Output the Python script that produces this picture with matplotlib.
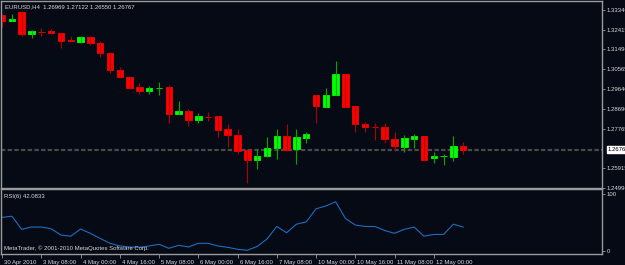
import numpy as np
import matplotlib
matplotlib.use("Agg")
import matplotlib.pyplot as plt
from matplotlib import transforms

# EURUSD H4 candles (30 Apr 2010 16:00 .. 12 May 2010 12:00)
opens = [1.33105, 1.32823, 1.33246, 1.32212, 1.32306, 1.32353, 1.32259, 1.31930,
         1.31836, 1.32071, 1.31789, 1.31319, 1.30520, 1.30191, 1.29721, 1.29533,
         1.29660, 1.29721, 1.28452, 1.28593, 1.28170, 1.28320, 1.28358, 1.27747,
         1.27465, 1.26760, 1.26290, 1.26478, 1.26854, 1.27418, 1.26807, 1.27324,
         1.29345, 1.28781, 1.29345, 1.30332, 1.28828, 1.27982, 1.27855, 1.27841,
         1.27277, 1.26901, 1.27277, 1.27418, 1.26384, 1.26464, 1.26431, 1.26969]
highs = [1.33152, 1.33152, 1.33293, 1.32400, 1.32494, 1.32447, 1.32259, 1.32118,
         1.32118, 1.32118, 1.31883, 1.31366, 1.30661, 1.30191, 1.29909, 1.29768,
         1.29956, 1.29815, 1.29063, 1.28687, 1.28499, 1.28546, 1.28358, 1.27982,
         1.27747, 1.26760, 1.26807, 1.27371, 1.27747, 1.27982, 1.27747, 1.27606,
         1.29345, 1.29674, 1.30943, 1.30332, 1.28828, 1.28076, 1.28029, 1.28029,
         1.27606, 1.27465, 1.27512, 1.27418, 1.26666, 1.26572, 1.27418, 1.27122]
lows = [1.32541, 1.32823, 1.32118, 1.32024, 1.32118, 1.32212, 1.31554, 1.31883,
        1.31789, 1.31695, 1.31131, 1.30379, 1.30144, 1.29627, 1.29392, 1.29392,
        1.29345, 1.28029, 1.28452, 1.27888, 1.28029, 1.28123, 1.27371, 1.26901,
        1.26572, 1.25209, 1.25867, 1.26431, 1.26337, 1.26713, 1.26102, 1.27089,
        1.28029, 1.28781, 1.29345, 1.28781, 1.27606, 1.27606, 1.27230, 1.27089,
        1.26713, 1.26666, 1.26854, 1.26243, 1.26149, 1.26055, 1.26243, 1.26550]
closes = [1.32823, 1.32917, 1.32212, 1.32353, 1.32290, 1.32259, 1.31883, 1.31883,
          1.32071, 1.31789, 1.31319, 1.30520, 1.30191, 1.29674, 1.29533, 1.29674,
          1.29674, 1.28452, 1.28593, 1.28170, 1.28358, 1.28311, 1.27700, 1.27465,
          1.26713, 1.26290, 1.26478, 1.26854, 1.27418, 1.26760, 1.27371, 1.27512,
          1.28828, 1.29345, 1.30332, 1.28781, 1.27982, 1.27841, 1.27841, 1.27277,
          1.26948, 1.27324, 1.27418, 1.26290, 1.26478, 1.26478, 1.26969, 1.26767]

rsi = [59, 61, 38, 42, 42, 39, 28, 26, 38.6, 31, 22, 13.5, 8.8, 7, 6.4, 8.8,
       11.7, 4.7, 10, 7, 13.5, 13.5, 8.8, 6.4, 3, 1.2, 8, 21, 43, 32, 47, 51,
       74, 79, 86.5, 57, 45.6, 43, 43, 36, 31, 38, 42, 26, 29, 29, 47, 42.0833]

date_labels = ["30 Apr 2010", "3 May 08:00", "4 May 00:00", "4 May 16:00",
               "5 May 08:00", "6 May 00:00", "6 May 16:00", "7 May 08:00",
               "10 May 00:00", "10 May 16:00", "11 May 08:00", "12 May 00:00"]
price_ticks = [1.33340, 1.32415, 1.31490, 1.30565, 1.29640, 1.28690, 1.27765,
               1.25915, 1.24990]
last_price = 1.26767

bg = "#050a14"
frame = "#9a9a9a"
txt = "#d8d8d8"
fs = 4.3
font = "Liberation Sans"

W, H = 625, 265
fig = plt.figure(figsize=(W / 100, H / 100), dpi=100, facecolor=bg)


def rect(l, t, r, b):
    return [l / W, (H - b) / H, (r - l) / W, (b - t) / H]


ax = fig.add_axes(rect(1, 1, 602, 188), facecolor=bg)
ax2 = fig.add_axes(rect(1, 189, 602, 254), facecolor=bg)

x = np.arange(len(opens))
o = np.array(opens)
c = np.array(closes)
up = c >= o

# wicks
ax.vlines(x[up], np.array(lows)[up], np.array(highs)[up], color="#00a800", lw=0.8)
ax.vlines(x[~up], np.array(lows)[~up], np.array(highs)[~up], color="#b00000", lw=0.8)
# bodies
bot = np.minimum(o, c)
hgt = np.abs(c - o)
ax.bar(x[up], hgt[up], bottom=bot[up], width=0.66, color="#00ff00",
       edgecolor="#00ff00", lw=0.6)
ax.bar(x[~up], hgt[~up], bottom=bot[~up], width=0.66, color="#ff0000",
       edgecolor="#ff0000", lw=0.6)

ax.axhline(last_price, color="#4a4a4a", lw=1.6, ls=(0, (2, 1)), zorder=0)

ax.set_xlim(-0.11, 61.15)
ax.set_ylim(1.24974, 1.33763)
ax.set_xticks([])
ax.yaxis.tick_right()
ax.set_yticks(price_ticks)
ax.set_yticklabels(["%.5f" % p for p in price_ticks])
ax.tick_params(axis="y", colors=frame, labelcolor=txt, labelsize=fs, length=2,
               width=0.6, pad=1.5)
for lab in ax.get_yticklabels():
    lab.set_family(font)
ax.annotate("%.5f" % last_price, xy=(1.0, last_price),
            xycoords=("axes fraction", "data"), xytext=(4, 0),
            textcoords="offset points", va="center", ha="left", fontsize=fs,
            family=font, color="black",
            bbox=dict(boxstyle="square,pad=0.15", fc="white", ec="white"))
ax.text(0.006, 0.985, "EURUSD,H4  1.26969 1.27122 1.26550 1.26767",
        transform=ax.transAxes, va="top", ha="left", fontsize=fs, family=font,
        color=txt)

ax2.plot(x, rsi, color="#1f6cc0", lw=0.8)
ax2.set_xlim(-0.11, 61.15)
ax2.set_ylim(-5.3, 108.8)
ax2.yaxis.tick_right()
ax2.set_yticks([0, 100])
ax2.set_yticklabels(["0", "100"])
ax2.tick_params(axis="y", colors=frame, labelcolor=txt, labelsize=fs, length=2,
                width=0.6, pad=1.5)
ax2.set_xticks(np.arange(0, len(opens), 4))
ax2.set_xticklabels(date_labels, ha="left")
ax2.tick_params(axis="x", colors=frame, labelcolor=txt, labelsize=fs, length=3,
                width=0.6, pad=1)
shift = transforms.ScaledTranslation(2 / 100, 0, fig.dpi_scale_trans)
for lab in ax2.get_xticklabels():
    lab.set_family(font)
    lab.set_transform(lab.get_transform() + shift)
for lab in ax2.get_yticklabels():
    lab.set_family(font)
ax2.text(0.005, 0.93, "RSI(6) 42.0833", transform=ax2.transAxes, va="top",
         ha="left", fontsize=fs, family=font, color=txt)
ax2.text(0.005, 0.04, "MetaTrader, \u00a9 2001-2010 MetaQuotes Software Corp.",
         transform=ax2.transAxes, va="bottom", ha="left", fontsize=fs,
         family=font, color=txt)

for a in (ax, ax2):
    for s in a.spines.values():
        s.set_color(frame)
        s.set_linewidth(1.0)

fig.savefig("out.png", dpi=100, facecolor=bg)
